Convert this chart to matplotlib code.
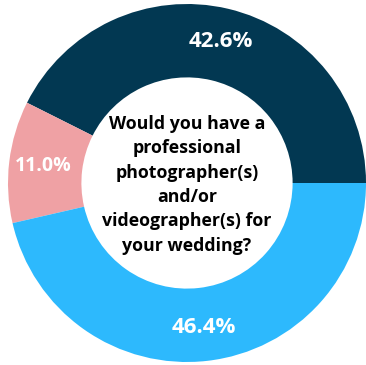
import matplotlib
matplotlib.use("Agg")
import matplotlib.pyplot as plt

labels = ["Yes", "Maybe", "No"]
shares = [42.6, 11.0, 46.4]
colors = ["#023852", "#EFA1A4", "#2DB9FD"]
question = "Would you have a\nprofessional\nphotographer(s)\nand/or\nvideographer(s) for\nyour wedding?"

plt.rcParams["font.family"] = ["Open Sans", "DejaVu Sans"]

fig = plt.figure(figsize=(3.66, 3.65), dpi=100)
ax = fig.add_axes([8 / 366, 3 / 365, 358 / 366, 358 / 365])

wedges, texts, autotexts = ax.pie(
    shares, colors=colors, startangle=0, counterclock=True,
    radius=1.0, wedgeprops=dict(width=0.41, linewidth=0),
    autopct="%.1f%%", pctdistance=0.81,
    textprops=dict(color="white", fontweight="bold", fontsize=16),
)
autotexts[1].set_fontsize(14)

ax.text(0, -0.01, question, ha="center", va="center", fontsize=12.8,
        fontweight="bold", color="black", linespacing=1.45)

ax.set_xlim(-1, 1)
ax.set_ylim(-1, 1)
ax.set_aspect("equal")
ax.axis("off")

fig.savefig("out.png", dpi=100)
